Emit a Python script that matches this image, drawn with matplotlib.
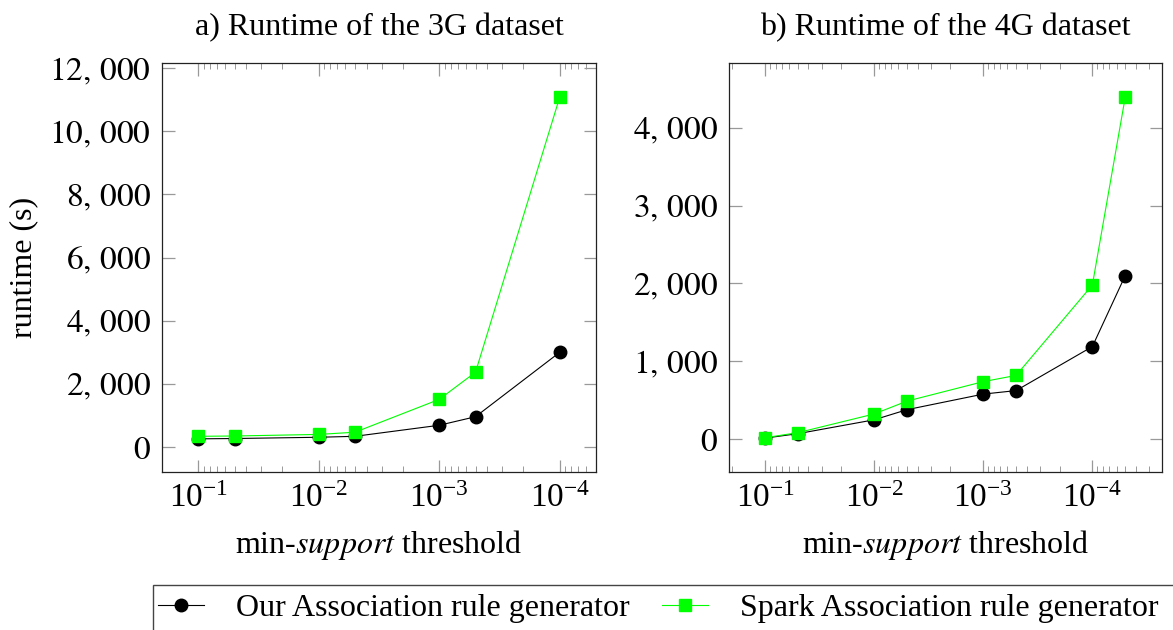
import numpy as np
import matplotlib
matplotlib.use("Agg")
import matplotlib.pyplot as plt
from matplotlib.ticker import MultipleLocator, FuncFormatter, LogLocator
from matplotlib.patches import Rectangle

plt.rcParams['font.family'] = ['Liberation Serif', 'DejaVu Serif']
plt.rcParams['mathtext.fontset'] = 'stix'

# data
support_3g = [0.1, 0.05, 0.01, 0.005, 0.001, 0.0005, 0.0001]
our_3g = [260, 270, 310, 340, 690, 960, 3000]
spark_3g = [340, 350, 400, 470, 1510, 2370, 11080]

support_4g = [0.1, 0.05, 0.01, 0.005, 0.001, 0.0005, 0.0001, 0.00005]
our_4g = [15, 72, 250, 380, 580, 625, 1190, 2100]
spark_4g = [20, 85, 325, 490, 740, 820, 1980, 4390]

titles = ["a) Runtime of the 3G dataset", "b) Runtime of the 4G dataset"]
series_names = ["Our Association rule generator", "Spark Association rule generator"]

W, H = 1173, 630
fig = plt.figure(figsize=(W / 100, H / 100), dpi=100)

def px_axes(x0, y0, x1, y1):
    return fig.add_axes([x0 / W, 1 - y1 / H, (x1 - x0) / W, (y1 - y0) / H])

ax1 = px_axes(162, 63, 596, 472)
ax2 = px_axes(729, 63, 1162, 472)

def thousands(v, pos):
    if v == 0:
        return "$0$"
    s = f"{int(round(v)):,}"
    return "$" + s.replace(",", ",\\,") + "$"

def style(ax, title, step):
    ax.set_xscale('log')
    ax.set_title(title, fontsize=23, pad=20)
    ax.set_xlabel(r"min-$\mathit{support}$ threshold", fontsize=23, labelpad=10)
    ax.yaxis.set_major_locator(MultipleLocator(step))
    ax.yaxis.set_major_formatter(FuncFormatter(thousands))
    ax.xaxis.set_major_locator(LogLocator(base=10, numticks=10))
    ax.xaxis.set_minor_locator(LogLocator(base=10, subs=np.arange(2, 10), numticks=10))
    ax.tick_params(which='both', direction='in', top=True, right=True,
                   color='#999999', labelsize=24)
    ax.tick_params(which='major', length=9, width=0.9, pad=8)
    ax.tick_params(which='minor', length=4.5, width=0.7)
    for sp in ax.spines.values():
        sp.set_linewidth(0.9)
        sp.set_color('#222222')

l1, = ax1.plot(support_3g, our_3g, color='black', lw=0.8, marker='o', ms=9)
l2, = ax1.plot(support_3g, spark_3g, color='#00ff00', lw=0.8, marker='s', ms=9)
ax2.plot(support_4g, our_4g, color='black', lw=0.8, marker='o', ms=9)
ax2.plot(support_4g, spark_4g, color='#00ff00', lw=0.8, marker='s', ms=9)

style(ax1, titles[0], 2000)
style(ax2, titles[1], 1000)
ax1.set_xlim(0.2, 5e-5)
ax1.set_ylim(-790, 12160)
ax2.set_xlim(0.214, 2.3e-5)
ax2.set_ylim(-420, 4830)
ax1.set_ylabel("runtime (s)", fontsize=23, labelpad=8)

# legend box running off the figure edge
fig.patches.append(Rectangle((153 / W, -0.05), 1.1, 1 - 585 / H + 0.05,
                             transform=fig.transFigure, fill=False,
                             edgecolor='#444444', lw=1.0))
fig.legend([l1, l2], series_names, loc='center left', ncol=2,
           bbox_to_anchor=(158 / W, 1 - 608 / H), frameon=False,
           fontsize=23, handlelength=1.45, columnspacing=1.0, handletextpad=1.0,
           borderaxespad=0, borderpad=0)

fig.savefig("out.png", dpi=100)
